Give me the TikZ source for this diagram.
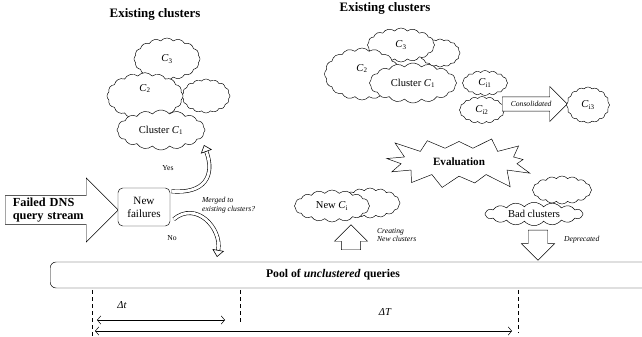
\documentclass[tikz,border=0pt]{standalone}
\usepackage{fontspec}
\setmainfont{Liberation Serif}
\usepackage{tikz}
\usetikzlibrary{positioning,shapes.symbols,shapes.arrows,arrows.meta}
% cluster name with its index
\newcommand{\Cl}[1]{\textit{C}\textsubscript{#1}}
\tikzset{
  % cloud of one cluster
  clus/.style={cloud, cloud puffs=16, cloud puff arc=100, cloud ignores aspect,
    draw, fill=white, inner sep=0pt, font=\fontsize{9}{10}\selectfont},
  % big hollow arrow
  bigarrow/.style={single arrow, draw, fill=white, inner sep=1pt},
  % bent hollow arrow
  bentarrow/.style={double, double distance=2.4pt, line width=0.5pt,
    -{Triangle[open, length=6pt, width=10pt]}},
  % small italic remark
  remark/.style={font=\fontsize{6.5}{7.5}\selectfont\itshape, align=left},
  % small plain remark
  tiny/.style={font=\fontsize{6.5}{7.5}\selectfont},
  % time span
  spanarrow/.style={{Straight Barb[length=3pt,width=7pt]}-{Straight Barb[length=3pt,width=7pt]}, line width=0.4pt},
  % bold heading
  heading/.style={font=\fontsize{11}{13}\selectfont\bfseries}
}

\begin{document}
\begin{tikzpicture}[x=0.03cm, y=0.03cm]
  \useasboundingbox (0,0) rectangle (642,337);

  % headings
  \node[heading] (titleL) at (155,323) {Existing clusters};
  \node[heading] (titleR) at (385,329) {Existing clusters};

  % existing clusters on the left, back to front
  \node[clus, minimum width=1.98cm, minimum height=1.26cm] (lC3) at (167,278) {\Cl{3}};
  \node[clus, minimum width=1.44cm, minimum height=1.02cm] (lC4) at (206,241) {};
  \node[clus, minimum width=2.28cm, minimum height=1.4cm, text depth=14pt] (lC2) at (145,241) {\Cl{2}};
  \node[clus, minimum width=2.64cm, minimum height=1.2cm] (lC1) at (161,207) {Cluster \Cl{1}};

  % incoming stream and new failures
  \node[bigarrow, minimum height=3.39cm, minimum width=1.92cm, single arrow head extend=0.5cm,
    anchor=tail, align=left, text width=2.5cm, font=\fontsize{10.5}{11.5}\selectfont\bfseries] (stream) at (5,127) {Failed DNS\\query stream};
  \node[draw, rounded corners=4pt, fill=white, minimum width=1.56cm, minimum height=1.14cm,
    align=center, font=\fontsize{9.5}{11}\selectfont] (newfail) at (144,130) {New\\failures};

  % merged or not
  \coordinate (yestip) at (204,192);
  \coordinate (notip) at (217,80);
  \draw[bentarrow] ([xshift=1pt, yshift=-3pt]newfail.north east) to[out=-5, in=-70, looseness=1.5] (yestip);
  \draw[bentarrow] ([xshift=3pt, yshift=6pt]newfail.south east) to[out=40, in=80, looseness=1.3] (notip);
  \node[tiny] (yes) at (168,169) {Yes};
  \node[tiny] (no) at (172,99) {No};
  \node[remark, anchor=west] (merged) at (198,132) {Merged to\\existing clusters?};

  % pool of unclustered queries
  \node[draw, rounded corners=5pt, minimum width=19cm, minimum height=0.78cm, anchor=west] (pool) at (50,62) {};
  \node[font=\fontsize{10}{12}\selectfont\bfseries] (poolname) at (333,62) {Pool of \textit{unclustered} queries};

  % time windows
  \coordinate (d1a) at (92,47);  \coordinate (d1b) at (92,0);
  \coordinate (d2a) at (240,47); \coordinate (d2b) at (240,12);
  \coordinate (d3a) at (518,47); \coordinate (d3b) at (518,4);
  \draw[dashed] (d1a) -- (d1b);
  \draw[dashed] (d2a) -- (d2b);
  \draw[dashed] (d3a) -- (d3b);
  \coordinate (ts) at (97,17);  \coordinate (te) at (225,17);
  \coordinate (Ts) at (95,6);   \coordinate (Te) at (512,6);
  \draw[spanarrow] (ts) -- (te);
  \draw[spanarrow] (Ts) -- (Te);
  \node[font=\fontsize{9}{10}\selectfont\itshape] (dt) at (122,32) {Δt};
  \node[font=\fontsize{9}{10}\selectfont\itshape] (dT) at (385,25) {ΔT};

  % existing clusters on the right, back to front
  \node[clus, minimum width=1.2cm, minimum height=0.84cm] (rC4) at (440,284) {};
  \node[clus, minimum width=2.01cm, minimum height=1.02cm] (rC3) at (401,292) {\Cl{3}};
  \node[clus, minimum width=2.25cm, minimum height=1.56cm, text depth=10pt] (rC2) at (362,263) {\Cl{2}};
  \node[clus, minimum width=2.61cm, minimum height=1.2cm] (rC1) at (413,254) {Cluster \Cl{1}};

  % consolidation
  \node[clus, minimum width=1.35cm, minimum height=0.75cm] (Ci1) at (485,254) {\Cl{i1}};
  \node[clus, minimum width=1.35cm, minimum height=0.81cm] (Ci2) at (482,227) {\Cl{i2}};
  \node[bigarrow, remark, minimum height=1.95cm, minimum width=1.05cm, single arrow head extend=0.3cm,
    inner ysep=3.5pt, anchor=tail] (consol) at (502,233) {Consolidated};
  \node[clus, minimum width=1.29cm, minimum height=1.08cm] (Ci3) at (588,232) {\Cl{i3}};

  % evaluation
  \node[starburst, draw, fill=white, starburst points=13, starburst point height=0.6cm, random starburst=3,
    minimum width=4.7cm, minimum height=2.05cm, font=\fontsize{9.5}{11}\selectfont\bfseries] (eval) at (459,175) {Evaluation};

  % new clusters
  \node[clus, minimum width=1.8cm, minimum height=0.9cm] (newB) at (370,134) {};
  \node[clus, minimum width=2.25cm, minimum height=0.96cm] (newC) at (332,131) {New \Cl{i}};
  \node[bigarrow, rotate=90, minimum height=0.75cm, minimum width=0.99cm, inner xsep=0pt, inner ysep=7.7pt,
    single arrow head extend=0.2cm, anchor=tail] (create) at (351,87) {};
  \node[remark, anchor=west] (creating) at (373,102) {Creating\\New clusters};

  % bad clusters
  \node[clus, minimum width=1.77cm, minimum height=0.84cm] (badB) at (562,147) {};
  \node[clus, minimum width=2.94cm, minimum height=0.7cm] (bad) at (534,123) {Bad clusters};
  \node[bigarrow, rotate=-90, minimum height=0.9cm, minimum width=0.99cm, inner xsep=0pt, inner ysep=8pt,
    single arrow head extend=0.2cm, anchor=tail] (deprec) at (538,107) {};
  \node[remark, anchor=west] (deprecated) at (560,97) {Deprecated};

\end{tikzpicture}
\end{document}
